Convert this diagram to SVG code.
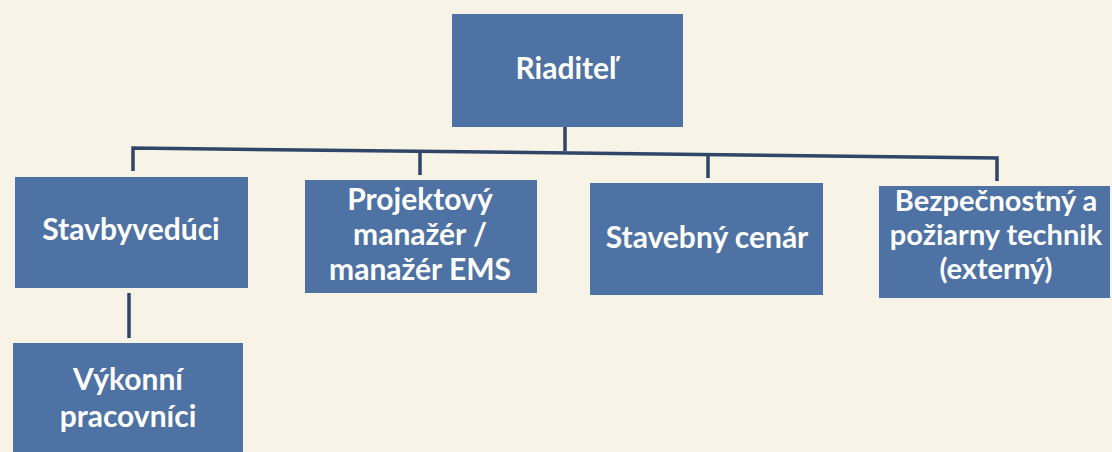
<svg xmlns="http://www.w3.org/2000/svg" width="1112" height="452" viewBox="0 0 1112 452">
<style>
.box{fill:#4e72a3;}
.lbl{font-family:"Lato","Open Sans","Liberation Sans",sans-serif;font-weight:bold;font-size:30px;fill:#ffffff;text-anchor:middle;}
.sm{font-size:29px;}
.con{fill:none;stroke:#2f4669;stroke-width:3.5;stroke-linejoin:miter;}
</style>
<rect x="0" y="0" width="1112" height="452" fill="#f7f3e6"/>
<g id="connectors">
<path class="con" d="M565,127 L565,151"/>
<path class="con" d="M133,171 L133,148 L997,158 L997,181"/>
<path class="con" d="M420,151 L420,175"/>
<path class="con" d="M708,155 L708,178"/>
<path class="con" d="M129,293 L129,338"/>
</g>
<g id="riaditel">
<rect class="box" x="452" y="14" width="231" height="113"/>
<text class="lbl" x="566" y="79">Riaditeľ</text>
</g>
<g id="stavbyveduci">
<rect class="box" x="15" y="177" width="233" height="111"/>
<text class="lbl" x="131" y="240">Stavbyvedúci</text>
</g>
<g id="projektovy">
<rect class="box" x="305" y="180" width="232" height="113"/>
<text class="lbl" x="420" y="210">Projektový</text>
<text class="lbl" x="420" y="245">manažér /</text>
<text class="lbl" x="420" y="280">manažér EMS</text>
</g>
<g id="stavebny">
<rect class="box" x="590" y="183" width="233" height="112"/>
<text class="lbl" x="707" y="248">Stavebný cenár</text>
</g>
<g id="bezpecnostny">
<rect class="box" x="879" y="186" width="231" height="112"/>
<text class="lbl sm" x="996" y="211">Bezpečnostný a</text>
<text class="lbl sm" x="996" y="245">požiarny technik</text>
<text class="lbl sm" x="996" y="279">(externý)</text>
</g>
<g id="vykonni">
<rect class="box" x="13" y="343" width="230" height="115"/>
<text class="lbl" x="128" y="390">Výkonní</text>
<text class="lbl" x="128" y="427">pracovníci</text>
</g>
</svg>
